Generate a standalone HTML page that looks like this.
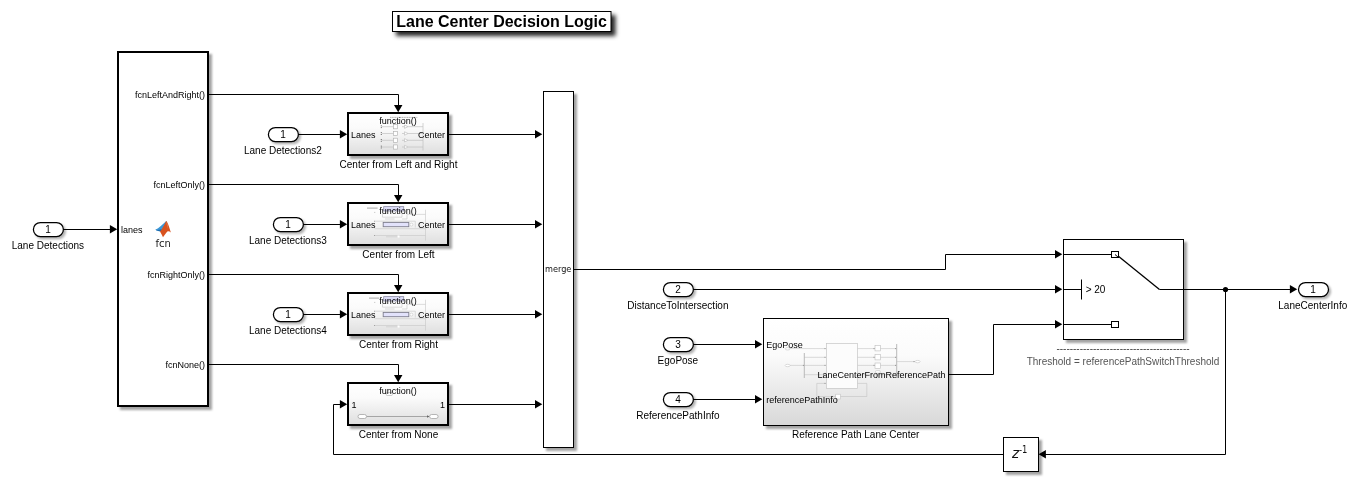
<!DOCTYPE html>
<html><head><meta charset="utf-8"><title>Lane Center Decision Logic</title>
<style>
html,body{margin:0;padding:0;background:#fff;}
body{width:1359px;height:482px;overflow:hidden;}
svg{display:block;will-change:transform;}
text{font-family:"Liberation Sans",sans-serif;fill:#000;}
.t10{font-size:10px;}
.t9{font-size:9px;}
.mid{text-anchor:middle;}
.end{text-anchor:end;}
.dj{font-family:"DejaVu Sans",sans-serif;}
.ln{fill:none;stroke:#000;stroke-width:1;}
.blk{fill:#fff;stroke:#000;stroke-width:1;}
.thick{stroke-width:2;}
.g{fill:none;stroke:#b8b8b8;stroke-width:0.7;}
.gf{fill:#fff;stroke:#b8b8b8;stroke-width:0.7;}
.sh1{filter:url(#sh);}
.shp{filter:url(#shp);}
</style></head><body>
<svg width="1359" height="482" viewBox="0 0 1359 482">
<defs>
<filter id="sh" x="-20%" y="-20%" width="150%" height="150%"><feDropShadow dx="3" dy="3" stdDeviation="1.1" flood-color="#000" flood-opacity="0.36"/></filter>
<filter id="shp" x="-20%" y="-30%" width="150%" height="180%"><feDropShadow dx="2" dy="2" stdDeviation="1.1" flood-color="#000" flood-opacity="0.3"/></filter>
<filter id="sht" x="-10%" y="-30%" width="130%" height="200%"><feDropShadow dx="4" dy="4" stdDeviation="2.1" flood-color="#000" flood-opacity="0.85"/></filter>
<linearGradient id="gr" x1="0" y1="0" x2="0" y2="1"><stop offset="0" stop-color="#fff"/><stop offset="0.35" stop-color="#fbfbfb"/><stop offset="1" stop-color="#d8d8d8"/></linearGradient>
<linearGradient id="gs" x1="0" y1="0" x2="0" y2="1"><stop offset="0" stop-color="#fff"/><stop offset="0.35" stop-color="#fbfbfb"/><stop offset="1" stop-color="#dedede"/></linearGradient>
</defs>

<rect x="392.5" y="11.5" width="218.5" height="20" class="blk sht" style="filter:url(#sht)"/>
<text x="501.6" y="26.7" class="mid" style="font-size:16px;font-weight:bold">Lane Center Decision Logic</text>
<rect x="118" y="52" width="90" height="354" class="blk thick sh1"/>
<text x="121" y="233" class="t9">lanes</text>
<text x="205" y="97.8" class="t9 end">fcnLeftAndRight()</text>
<text x="205" y="187.8" class="t9 end">fcnLeftOnly()</text>
<text x="205" y="277.8" class="t9 end">fcnRightOnly()</text>
<text x="205" y="367.8" class="t9 end">fcnNone()</text>
<g><path d="M155.4 229.8 C158.8 228 162.8 224.4 166.3 220.9 L166.9 222 L161.4 231 C159.6 231.5 157.4 231 155.4 229.8 Z" fill="#3c97d6"/><path d="M155.4 229.8 C157.4 230.1 159.4 229.9 161.2 229.3 L162 230 L161.2 231.2 C159.6 231.6 157.4 231 155.4 229.8 Z" fill="#1c6cb0"/><path d="M166.3 220.9 C168.4 223 169.6 229 171 232.5 C169.7 231.5 168.7 231 167.7 231.3 C166 232.6 164.8 235.2 163 237.2 C162.1 235.3 161 233.2 160 231.4 C162.4 228.6 164.4 224.6 166 221.2 Z" fill="#d8531f"/><path d="M166.6 221.8 C167.3 223.5 167.6 226 167.7 228.6 C167 226.3 166.7 224 166.6 221.8 Z" fill="#f3a27c"/></g>
<text x="163.1" y="246.6" class="mid dj" style="font-size:10px;fill:#1a1a1a">fcn</text>
<rect x="33.4" y="222.5" width="30" height="14" rx="7.0" ry="7.0" class="blk shp" style="stroke-width:1.25"/><text x="48.0" y="233.1" class="t10 mid">1</text><text x="47.9" y="249.0" class="t10 mid">Lane Detections</text>
<path class="ln" d="M63 229.5 H111"/><path d="M117.2 229.2 L109.9 224.95 L109.9 233.45 Z" fill="#000"/>
<path class="ln" d="M209 94.5 H398.5 V106"/><path d="M398.2 112.2 L393.95 104.9 L402.45 104.9 Z" fill="#000"/>
<path class="ln" d="M209 184.5 H398.5 V196"/><path d="M398.2 202.2 L393.95 194.89999999999998 L402.45 194.89999999999998 Z" fill="#000"/>
<path class="ln" d="M209 274.5 H398.5 V286"/><path d="M398.2 292.2 L393.95 284.9 L402.45 284.9 Z" fill="#000"/>
<path class="ln" d="M209 364.5 H398.5 V376"/><path d="M398.2 382.2 L393.95 374.9 L402.45 374.9 Z" fill="#000"/>
<rect x="348" y="113" width="100" height="42" fill="url(#gs)" stroke="#000" stroke-width="2" class="sh1"/>
<g class="g" style="stroke:#bcbcbc;stroke-width:0.65"><path d="M381.3 125.4 v0.9 M381.3 127.2 v0.9" stroke="#444" stroke-width="0.9"/><path d="M381.8 126.7 H393.5 M402 126.7 H404.5 M408 126.7 H423"/><rect x="393.4" y="124.60000000000001" width="4.2" height="4.2" fill="#fff" stroke="#b0b0b0"/><path d="M404.5 125.0 L408 126.7 L404.5 128.4 Z" fill="#fff"/><path d="M381.3 132.2 v0.9 M381.3 134.0 v0.9" stroke="#444" stroke-width="0.9"/><path d="M381.8 133.5 H393.5 M402 133.5 H404.5 M408 133.5 H423"/><rect x="393.4" y="131.4" width="4.2" height="4.2" fill="#fff" stroke="#b0b0b0"/><path d="M404.5 131.8 L408 133.5 L404.5 135.2 Z" fill="#fff"/><path d="M381.3 139.0 v0.9 M381.3 140.8 v0.9" stroke="#444" stroke-width="0.9"/><path d="M381.8 140.3 H393.5 M402 140.3 H404.5 M408 140.3 H423"/><rect x="393.4" y="138.20000000000002" width="4.2" height="4.2" fill="#fff" stroke="#b0b0b0"/><path d="M404.5 138.60000000000002 L408 140.3 L404.5 142.0 Z" fill="#fff"/><path d="M381.3 145.7 v0.9 M381.3 147.5 v0.9" stroke="#444" stroke-width="0.9"/><path d="M381.8 147 H393.5 M402 147 H404.5 M408 147 H423"/><rect x="393.4" y="144.9" width="4.2" height="4.2" fill="#fff" stroke="#b0b0b0"/><path d="M404.5 145.3 L408 147 L404.5 148.7 Z" fill="#fff"/><path d="M423 123 V150.5"/><path d="M390 117.4 H417.5" stroke="#b4b4b4" stroke-width="1" stroke-dasharray="1.2 0.5"/></g>
<text x="398" y="124" class="t9 mid">function()</text>
<text x="351" y="137.8" class="t9">Lanes</text>
<text x="445" y="137.8" class="t9 end">Center</text>
<text x="398.5" y="168" class="t10 mid">Center from Left and Right</text>
<path class="ln" d="M449 134.5 H537"/><path d="M542.3000000000001 134.2 L535.0000000000001 129.95 L535.0000000000001 138.45 Z" fill="#000"/>
<rect x="348" y="203" width="100" height="42" fill="url(#gs)" stroke="#000" stroke-width="2" class="sh1"/>
<g class="g" transform="translate(0,0)" style="stroke:#c6c6c6;stroke-width:0.6"><rect x="383.7" y="206.6" width="20" height="4.4" fill="#dadaf6" stroke="#8e8ea6" stroke-width="0.8"/><path d="M367 208.1 H377.6" stroke="#a8a8a8" stroke-width="1"/><path d="M374.4 212.4 h0.8" stroke="#999" stroke-width="0.8"/><path d="M374.5 221.2 H415.3 V227.5 M374.5 228.7 H425.5 M425.5 209.8 V240.6 M407 214.4 H425.5 M382.5 214 V217.2 H402 V214 M402 219 H407 V214.4 M385 219 h9.5 M374.5 235.5 H425.5 M386 236.8 h12"/><rect x="383.2" y="222.4" width="25.6" height="4.3" fill="#e2e2fb" stroke="#7e7e8e" stroke-width="0.9"/><ellipse cx="411.4" cy="224.6" rx="1.5" ry="1.5" fill="#fff"/><rect x="397.5" y="235.5" width="2" height="2" fill="#fff" stroke="none"/><path d="M374.5 220.8 v0.9 M374.5 235 v0.9" stroke="#8a8a8a" stroke-width="0.8"/></g>
<text x="398" y="214" class="t9 mid">function()</text>
<text x="351" y="227.8" class="t9">Lanes</text>
<text x="445" y="227.8" class="t9 end">Center</text>
<text x="398.5" y="258" class="t10 mid">Center from Left</text>
<path class="ln" d="M449 224.5 H537"/><path d="M542.3000000000001 224.2 L535.0000000000001 219.95 L535.0000000000001 228.45 Z" fill="#000"/>
<rect x="348" y="293" width="100" height="42" fill="url(#gs)" stroke="#000" stroke-width="2" class="sh1"/>
<g class="g" transform="translate(0,90)" style="stroke:#c6c6c6;stroke-width:0.6"><rect x="383.7" y="206.6" width="20" height="4.4" fill="#dadaf6" stroke="#8e8ea6" stroke-width="0.8"/><path d="M369 208.1 H379.3" stroke="#a8a8a8" stroke-width="1"/><path d="M374.4 212.4 h0.8" stroke="#999" stroke-width="0.8"/><path d="M374.5 221.2 H415.3 V227.5 M374.5 228.7 H425.5 M425.5 209.8 V240.6 M407 214.4 H425.5 M382.5 214 V217.2 H402 V214 M402 219 H407 V214.4 M385 219 h9.5 M374.5 235.5 H425.5 M386 236.8 h12"/><rect x="383.2" y="222.4" width="25.6" height="4.3" fill="#e2e2fb" stroke="#7e7e8e" stroke-width="0.9"/><ellipse cx="411.4" cy="224.6" rx="1.5" ry="1.5" fill="#fff"/><rect x="397.5" y="235.5" width="2" height="2" fill="#fff" stroke="none"/><path d="M374.5 220.8 v0.9 M374.5 235 v0.9" stroke="#8a8a8a" stroke-width="0.8"/></g>
<text x="398" y="304" class="t9 mid">function()</text>
<text x="351" y="317.8" class="t9">Lanes</text>
<text x="445" y="317.8" class="t9 end">Center</text>
<text x="398.5" y="348" class="t10 mid">Center from Right</text>
<path class="ln" d="M449 314.5 H537"/><path d="M542.3000000000001 314.2 L535.0000000000001 309.95 L535.0000000000001 318.45 Z" fill="#000"/>
<rect x="348" y="383" width="100" height="42" fill="url(#gs)" stroke="#000" stroke-width="2" class="sh1"/>
<g class="g"><rect x="386.3" y="392.5" width="6" height="3" rx="0.8" class="gf"/><path d="M366.5 416.5 H429" stroke="#888"/><path d="M429.5 416.5 L427 415.3 V417.7 Z" fill="#666" stroke="none"/><rect x="358" y="414.5" width="8.5" height="4" rx="2" fill="#fff" stroke="#a4a4a4" stroke-width="0.8"/><rect x="429.6" y="414.5" width="8.5" height="4" rx="2" fill="#fff" stroke="#a4a4a4" stroke-width="0.8"/></g>
<text x="398" y="394" class="t9 mid">function()</text>
<text x="351.5" y="407.8" class="t9">1</text>
<text x="445" y="407.8" class="t9 end">1</text>
<text x="398.5" y="438" class="t10 mid">Center from None</text>
<path class="ln" d="M449 404.5 H537"/><path d="M542.3000000000001 404.2 L535.0000000000001 399.95 L535.0000000000001 408.45 Z" fill="#000"/>
<rect x="268.4" y="127.5" width="30" height="14" rx="7.0" ry="7.0" class="blk shp" style="stroke-width:1.25"/><text x="283.0" y="138.1" class="t10 mid">1</text><text x="282.9" y="154.0" class="t10 mid">Lane Detections2</text>
<path class="ln" d="M298 134.5 H341"/><path d="M347.2 134.2 L339.9 129.95 L339.9 138.45 Z" fill="#000"/>
<rect x="273.4" y="217.5" width="30" height="14" rx="7.0" ry="7.0" class="blk shp" style="stroke-width:1.25"/><text x="288.0" y="228.1" class="t10 mid">1</text><text x="287.9" y="244.0" class="t10 mid">Lane Detections3</text>
<path class="ln" d="M303 224.5 H341"/><path d="M347.2 224.2 L339.9 219.95 L339.9 228.45 Z" fill="#000"/>
<rect x="273.4" y="307.5" width="30" height="14" rx="7.0" ry="7.0" class="blk shp" style="stroke-width:1.25"/><text x="288.0" y="318.1" class="t10 mid">1</text><text x="287.9" y="334.0" class="t10 mid">Lane Detections4</text>
<path class="ln" d="M303 314.5 H341"/><path d="M347.2 314.2 L339.9 309.95 L339.9 318.45 Z" fill="#000"/>
<rect x="543.5" y="91.5" width="30" height="356" class="blk sh1"/>
<text x="545" y="271.8" class="dj" style="font-size:9px;fill:#111" textLength="26.4" lengthAdjust="spacingAndGlyphs">merge</text>
<path class="ln" d="M574 269.5 H945.5 V254.5 H1057"/><path d="M1062.3 254.2 L1055.0 249.95 L1055.0 258.45 Z" fill="#000"/>
<rect x="663.4" y="282.5" width="30" height="14" rx="7.0" ry="7.0" class="blk shp" style="stroke-width:1.25"/><text x="678.0" y="293.1" class="t10 mid">2</text><text x="677.9" y="309.0" class="t10 mid">DistanceToIntersection</text>
<path class="ln" d="M693 289.5 H1057"/><path d="M1062.3 289.2 L1055.0 284.95 L1055.0 293.45 Z" fill="#000"/>
<rect x="663.4" y="337.5" width="30" height="14" rx="7.0" ry="7.0" class="blk shp" style="stroke-width:1.25"/><text x="678.0" y="348.1" class="t10 mid">3</text><text x="677.9" y="364.0" class="t10 mid">EgoPose</text>
<path class="ln" d="M693 344.5 H757"/><path d="M762.3000000000001 344.2 L755.0000000000001 339.95 L755.0000000000001 348.45 Z" fill="#000"/>
<rect x="663.4" y="392.5" width="30" height="14" rx="7.0" ry="7.0" class="blk shp" style="stroke-width:1.25"/><text x="678.0" y="403.1" class="t10 mid">4</text><text x="677.9" y="419.0" class="t10 mid">ReferencePathInfo</text>
<path class="ln" d="M693 399.5 H757"/><path d="M762.3000000000001 399.2 L755.0000000000001 394.95 L755.0000000000001 403.45 Z" fill="#000"/>
<rect x="763.5" y="318.5" width="185" height="107" fill="url(#gr)" stroke="#000" stroke-width="1" class="sh1"/>
<g class="g" style="stroke:#c2c2c2;stroke-width:0.6"><rect x="826.4" y="343.4" width="31.2" height="45" fill="#fcfcfc" stroke="#c6c6c6" stroke-width="0.7"/><path d="M790 348.6 H826 M804.3 357.3 H826 M790 365.4 H826 M804.3 374.7 H826"/><path d="M804.3 353 V378 M896.7 344 V378" stroke="#b2b2b2" stroke-width="0.9"/><ellipse cx="787.6" cy="348.8" rx="2.5" ry="1.2" fill="#fff"/><ellipse cx="787.6" cy="365.5" rx="2.5" ry="1.2" fill="#fff"/><path d="M857.6 348.6 H896.7 M857.6 357.3 H896.7 M857.6 365.4 H896.7 M857.6 374.7 H896.7 M896.7 361.6 H915"/><rect x="875" y="345.3" width="5.6" height="5.6" fill="#fff" stroke="#bcbcbc"/><rect x="875" y="354.3" width="5.6" height="5.6" fill="#fff" stroke="#bcbcbc"/><rect x="875" y="363.0" width="5.6" height="5.6" fill="#fff" stroke="#bcbcbc"/><rect x="875.4" y="370.6" width="5" height="2.6" rx="1.2" fill="#fff"/><ellipse cx="917.6" cy="361.6" rx="2.5" ry="1.2" fill="#fff"/><path d="M826 383.4 H816.8 V396.5 H866.8 V383.4 H857.6"/><rect x="835.7" y="394.2" width="4.8" height="4.8" fill="#fff" stroke="#c0c0c0"/><path d="M825 348.1 v1 M825 356.8 v1 M825 364.9 v1 M825 382.9 v1 M874 348.1 v1 M895.6 348.1 v1 M874 356.8 v1 M895.6 356.8 v1 M874 364.9 v1 M895.6 364.9 v1 M803.4 364.9 v1 M914 361.1 v1" stroke="#8a8a8a" stroke-width="0.9"/></g>
<text x="766.3" y="348" class="t9">EgoPose</text>
<text x="766.3" y="402.8" class="t9">referencePathInfo</text>
<text x="945.5" y="377.8" class="t9 end">LaneCenterFromReferencePath</text>
<text x="855.7" y="437.8" class="t10 mid">Reference Path Lane Center</text>
<path class="ln" d="M949 374.5 H993.5 V324.5 H1057"/><path d="M1062.3 324.2 L1055.0 319.95 L1055.0 328.45 Z" fill="#000"/>
<rect x="1063.5" y="239.5" width="120" height="100" class="blk sh1"/>
<path class="ln" d="M1064 254.5 H1111.5 M1064 324.5 H1111.5 M1064 289.5 H1081.5 M1081.5 279.5 V299.5 M1159.5 289.5 H1183"/><path class="ln" style="stroke-width:1.3" d="M1117.5 255.5 L1159.5 289.5"/>
<rect x="1111.5" y="251.5" width="7" height="6" class="blk"/>
<rect x="1111.5" y="321.5" width="7" height="6" class="blk"/>
<path class="ln" d="M1115 254.5 L1118.5 257.5"/>
<text x="1085.7" y="292.6" class="t10">&gt; 20</text>
<text x="1123" y="351.9" class="t10 mid" style="fill:#444">----------------------------------------</text>
<text x="1123" y="365" class="t10 mid" style="fill:#555">Threshold = referencePathSwitchThreshold</text>
<path class="ln" d="M1184 289.5 H1292"/><path d="M1297.2 289.2 L1289.9 284.95 L1289.9 293.45 Z" fill="#000"/>
<circle cx="1225.5" cy="289.5" r="2.6" fill="#000"/>
<rect x="1298.5" y="282.5" width="30" height="14" rx="7.0" ry="7.0" class="blk shp" style="stroke-width:1.25"/><text x="1313.1" y="293.1" class="t10 mid">1</text><text x="1312.8" y="309.0" class="t10 mid">LaneCenterInfo</text>
<path class="ln" d="M1225.5 289.5 V454.5 H1045"/><path d="M1038.6 454.2 L1045.8999999999999 449.95 L1045.8999999999999 458.45 Z" fill="#000"/>
<rect x="1003.5" y="437.5" width="35" height="34" class="blk sh1"/>
<text x="1012" y="458" class="dj" style="font-size:13.5px;font-style:italic;fill:#111">z</text>
<text x="1018.9" y="452.8" class="dj" style="font-size:10px;fill:#111" textLength="8.4" lengthAdjust="spacingAndGlyphs">-1</text>
<path class="ln" d="M1003 454.5 H333.5 V404.5 H341"/><path d="M347.2 404.2 L339.9 399.95 L339.9 408.45 Z" fill="#000"/>
</svg></body></html>
